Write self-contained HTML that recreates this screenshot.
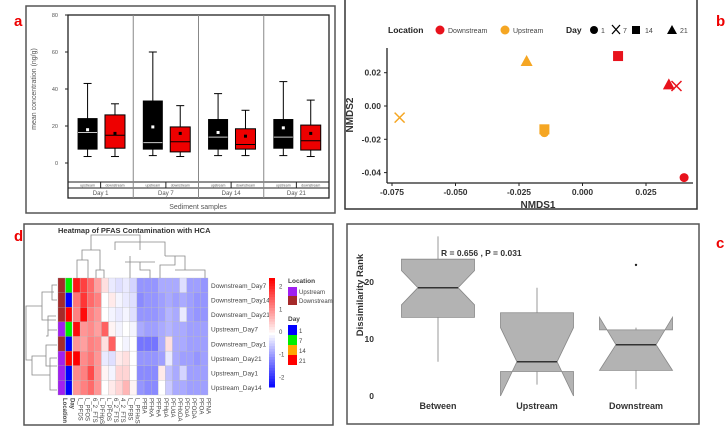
<!DOCTYPE html>
<html><head><meta charset="utf-8"><style>
html,body{margin:0;padding:0;background:#fff;}
svg{display:block;font-family:"Liberation Sans",Arial,sans-serif;}
</style></head><body>
<svg id="fig" width="725" height="435" viewBox="0 0 725 435" xmlns="http://www.w3.org/2000/svg">
<rect x="26" y="6" width="309" height="207" fill="none" stroke="#555" stroke-width="1.5"/>
<rect x="345" y="-2" width="352" height="211" fill="none" stroke="#333" stroke-width="1.5"/>
<rect x="24" y="224" width="309" height="201" fill="none" stroke="#555" stroke-width="1.5"/>
<rect x="347" y="224" width="352" height="200" fill="none" stroke="#555" stroke-width="1.5"/>
<text x="14" y="26" fill="#e00" font-weight="bold" font-size="15">a</text>
<text x="716" y="26" fill="#e00" font-weight="bold" font-size="15">b</text>
<text x="14" y="241" fill="#e00" font-weight="bold" font-size="15">d</text>
<text x="716" y="248" fill="#e00" font-weight="bold" font-size="15">c</text>
<g id="ga"></g><g id="gb"></g><g id="gd"></g><g id="gc"></g>
</svg>
<script>
const NS="http://www.w3.org/2000/svg";
function mk(p,t,a,txt){const e=document.createElementNS(NS,t);for(const k in a)e.setAttribute(k,a[k]);if(txt!==undefined)e.textContent=txt;p.appendChild(e);return e;}

/* ---------- Panel a data ---------- */
const aDays=["Day 1","Day 7","Day 14","Day 21"];
const aGroups=["upstream","downstream"];
const aMin=[3.5,3.5, 4,3.5, 4,4, 4,3.5];
const aQ1=[7.5,8, 7.5,6, 7.5,7.5, 8,7];
const aMed=[16.5,15, 11,11.5, 14,10, 14,12];
const aQ3=[24,26, 33.5,19.5, 23.5,18.5, 23.5,20.5];
const aMax=[43,32, 60,31, 37.5,28.5, 44,34];
const aMean=[18,16, 19.5,16, 16.5,14.5, 19,16];
const aTicks=[0,20,40,60,80];
(function(){
 const g=document.getElementById('ga');
 const L=68,R=329,T=15,B=198;
 const y=v=>163-(v)*(148/80);
 mk(g,'rect',{x:L,y:T,width:R-L,height:B-T,fill:'none',stroke:'#222','stroke-width':1.3});
 aTicks.forEach(t=>{mk(g,'line',{x1:L-3,x2:L,y1:y(t),y2:y(t),stroke:'#222'});
  const e=mk(g,'text',{x:L-10,y:y(t)+2,'font-size':5.5,'text-anchor':'end',fill:'#555'},t);
  });
 const yt=mk(g,'text',{x:36,y:89,'font-size':7,fill:'#555','text-anchor':'middle',transform:'rotate(-90 36 89)'},'mean concentration (ng/g)');
 
 const gw=(R-L)/aDays.length;
 mk(g,'line',{x1:L,x2:R,y1:182,y2:182,stroke:'#222'});
 mk(g,'line',{x1:L,x2:R,y1:188,y2:188,stroke:'#222'});
 aDays.forEach((d,i)=>{
  const x0=L+i*gw;
  if(i>0)mk(g,'line',{x1:x0,x2:x0,y1:T,y2:B,stroke:'#888'});
  mk(g,'line',{x1:x0+gw/2,x2:x0+gw/2,y1:182,y2:188,stroke:'#222'});
  const dt=mk(g,'text',{x:x0+gw/2,y:195,'font-size':6,'text-anchor':'middle',fill:'#555'},d);
  
  aGroups.forEach((gr,j)=>{
   const k=i*2+j;const cx=x0+gw*(j?0.72:0.3);const w=j?20:19;
   const col=j?'#e00':'#000';
   mk(g,'line',{x1:cx,x2:cx,y1:y(aMax[k]),y2:y(aMin[k]),stroke:'#000','stroke-width':1});
   mk(g,'line',{x1:cx-4,x2:cx+4,y1:y(aMax[k]),y2:y(aMax[k]),stroke:'#000'});
   mk(g,'line',{x1:cx-4,x2:cx+4,y1:y(aMin[k]),y2:y(aMin[k]),stroke:'#000'});
   const b=mk(g,'rect',{x:cx-w/2,y:y(aQ3[k]),width:w,height:y(aQ1[k])-y(aQ3[k]),fill:col,stroke:'#000'});
   
   mk(g,'line',{x1:cx-w/2,x2:cx+w/2,y1:y(aMed[k]),y2:y(aMed[k]),stroke:j?'#000':'#ccc','stroke-width':1});
   mk(g,'rect',{x:cx-1.5,y:y(aMean[k])-1.5,width:3,height:3,fill:j?'#000':'#fff'});
   const lt=mk(g,'text',{x:cx,y:186.5,'font-size':3.5,'text-anchor':'middle',fill:'#555'},gr);
   
  });
 });
 const xt=mk(g,'text',{x:198,y:209,'font-size':7,'text-anchor':'middle',fill:'#555'},'Sediment samples');
 
})();

/* ---------- Panel b data ---------- */
const bX=[-0.072,-0.022,-0.015,-0.015,0.014,0.034,0.037,0.040];
const bY=[-0.007,0.027,-0.014,-0.016,0.030,0.013,0.012,-0.043];
const bLoc=["Upstream","Upstream","Upstream","Upstream","Downstream","Downstream","Downstream","Downstream"];
const bDay=[7,21,14,1,14,21,7,1];
const bXTicks=[-0.075,-0.05,-0.025,0,0.025];
const bXTickLabels=["-0.075","-0.050","-0.025","0.000","0.025"];
const bYTicks=[0.02,0,-0.02,-0.04];
const bYTickLabels=["0.02","0.00","-0.02","-0.04"];
(function(){
 const g=document.getElementById('gb');
 const x=v=>392+(v+0.075)*(254/0.1);
 const y=v=>106-v*(33.3/0.02);
 mk(g,'line',{x1:387,x2:387,y1:48,y2:183,stroke:'#222','stroke-width':1.3});
 mk(g,'line',{x1:387,x2:693,y1:183,y2:183,stroke:'#222','stroke-width':1.3});
 bXTicks.forEach((t,i)=>{mk(g,'line',{x1:x(t),x2:x(t),y1:183,y2:186,stroke:'#222'});
  const e=mk(g,'text',{x:x(t),y:195,'font-size':8.5,'font-weight':'bold','text-anchor':'middle',fill:'#333'},bXTickLabels[i]);
  });
 bYTicks.forEach((t,i)=>{mk(g,'line',{x1:384,x2:387,y1:y(t),y2:y(t),stroke:'#222'});
  const e=mk(g,'text',{x:381,y:y(t)+3,'font-size':8.5,'font-weight':'bold','text-anchor':'end',fill:'#333'},bYTickLabels[i]);
  });
 const t1=mk(g,'text',{x:538,y:208,'font-size':10,'font-weight':'bold','text-anchor':'middle',fill:'#333'},'NMDS1');
 
 const t2=mk(g,'text',{x:353,y:115,'font-size':10,'font-weight':'bold','text-anchor':'middle',fill:'#333',transform:'rotate(-90 353 115)'},'NMDS2');
 
 function shape(cx,cy,d,col,s){
  if(d===1)return mk(g,'circle',{cx,cy,r:s*0.9,fill:col});
  if(d===14)return mk(g,'rect',{x:cx-s,y:cy-s,width:2*s,height:2*s,fill:col});
  if(d===21)return mk(g,'polygon',{points:`${cx},${cy-s*1.2} ${cx-s*1.2},${cy+s} ${cx+s*1.2},${cy+s}`,fill:col});
  return mk(g,'path',{d:`M${cx-s},${cy-s}L${cx+s},${cy+s}M${cx-s},${cy+s}L${cx+s},${cy-s}`,stroke:col,'stroke-width':1.5,fill:'none'});
 }
 bX.forEach((v,i)=>{const col=bLoc[i]==='Upstream'?'#f5a623':'#e8121c';
  const e=shape(x(v),y(bY[i]),bDay[i],col,5);
  });
 const lg=mk(g,'g',{});
 
 mk(lg,'text',{x:388,y:33,'font-size':8.5,'font-weight':'bold',fill:'#222'},'Location');
 mk(lg,'circle',{cx:440,cy:30,r:4.5,fill:'#e8121c'});
 mk(lg,'text',{x:448,y:33,'font-size':7,fill:'#444'},'Downstream');
 mk(lg,'circle',{cx:505,cy:30,r:4.5,fill:'#f5a623'});
 mk(lg,'text',{x:513,y:33,'font-size':7,fill:'#444'},'Upstream');
 mk(lg,'text',{x:566,y:33,'font-size':8.5,'font-weight':'bold',fill:'#222'},'Day');
 mk(lg,'circle',{cx:594,cy:30,r:4,fill:'#000'});
 mk(lg,'text',{x:601,y:33,'font-size':7,fill:'#444'},'1');
 mk(lg,'path',{d:'M612,25L620,34M612,34L620,25',stroke:'#000','stroke-width':1.3});
 mk(lg,'text',{x:623,y:33,'font-size':7,fill:'#444'},'7');
 mk(lg,'rect',{x:632,y:26,width:8,height:8,fill:'#000'});
 mk(lg,'text',{x:645,y:33,'font-size':7,fill:'#444'},'14');
 mk(lg,'polygon',{points:'672,25 667,34 677,34',fill:'#000'});
 mk(lg,'text',{x:680,y:33,'font-size':7,fill:'#444'},'21');
})();

/* ---------- Panel d data ---------- */
const dRows=["Downstream_Day7","Downstream_Day14","Downstream_Day21","Upstream_Day7","Downstream_Day1","Upstream_Day21","Upstream_Day1","Upstream_Day14"];
const dRowLoc=["Downstream","Downstream","Downstream","Upstream","Downstream","Upstream","Upstream","Upstream"];
const dRowDay=[7,1,21,7,1,21,1,1];
const dCols=["L_PFDS","L_PFOS","6_2_FTS","L_PFHpS","L_PFOS","6_2_FTS","4_2_FTS","L_PFBS","L_PFHxS","PFBA","PFHxA","PFPeA","PFHpA","PFUdA","PFHxDA","PFDoA","PFODA","PFOA","PFNA"];
const dVals=[
 [2.2,1.8,1.4,0.9,0.3,-0.2,-0.3,-0.2,-0.4,-1,-1,-1,-0.8,-0.8,-0.8,-0.3,-0.9,-0.9,-1],
 [1.3,1.9,1.4,1.2,0,0.2,-0.1,-0.2,-0.3,-1.1,-1,-1,-0.9,-0.8,-0.9,-0.8,-0.9,-1,-1],
 [1.2,2.3,1.2,1,0,-0.1,-0.2,-0.1,-0.3,-1,-1,-1,-0.9,-0.7,-0.8,-0.2,-0.9,-1,-1],
 [2.3,1,1.1,0.9,1.5,0.1,-0.1,0,-0.1,-0.8,-0.9,-0.9,-0.8,-0.7,-0.8,-0.8,-0.9,-0.9,-0.9],
 [1,0.9,1.2,1.1,0.3,1.5,0,-0.1,0,-1.3,-1.3,-1.3,-0.8,0.3,-0.8,-0.8,-0.9,-0.9,-0.9],
 [2.4,1.1,1.3,1,-0.2,-0.3,0.2,0.3,0,-1,-1,-1,-0.9,-0.2,-0.8,-0.9,-0.9,-1,-0.9],
 [1.1,1.2,1.7,1,0.1,-0.1,0.4,0.4,0,-1.1,-1.1,-1.1,0.2,-0.6,-0.8,-0.4,-0.9,-0.9,-0.9],
 [1,1.2,1.4,1,0,0.2,0.4,0.7,0.1,-1,-1.1,-1.1,0,-0.5,-0.8,-0.8,-0.9,-0.9,-0.9]
];
const dLegendTicks=[2,1,0,-1,-2];
(function(){
 const g=document.getElementById('gd');
 const X0=73,X1=208,Y0=278,Y1=395;
 const cw=(X1-X0)/dCols.length,rh=(Y1-Y0)/dRows.length;
 function col(v){v=Math.max(-2.4,Math.min(2.4,v))/2.4;
  if(v>=0){const c=Math.round(255*(1-v));return `rgb(255,${c},${c})`;}
  const c=Math.round(255*(1+v));return `rgb(${c},${c},255)`;}
 const tt=mk(g,'text',{x:58,y:233,'font-size':7.5,'font-weight':'bold',fill:'#333'},'Heatmap of PFAS Contamination with HCA');
 
 dRows.forEach((r,i)=>{
  const yy=Y0+i*rh;
  const lc=mk(g,'rect',{x:58,y:yy,width:7,height:rh,fill:dRowLoc[i]==='Upstream'?'#a020f0':'#a52a2a',stroke:'#999','stroke-width':0.3});
  
  const dc={1:'#0000ff',7:'#00ee00',14:'#ffa500',21:'#ff0000'}[dRowDay[i]];
  const dcell=mk(g,'rect',{x:65.5,y:yy,width:6.5,height:rh,fill:dc,stroke:'#999','stroke-width':0.3});
  
  dCols.forEach((c,j)=>{
   const e=mk(g,'rect',{x:X0+j*cw,y:yy,width:cw,height:rh,fill:col(dVals[i][j]),stroke:'#bbb','stroke-width':0.3});
   
  });
  const rl=mk(g,'text',{x:211,y:yy+rh/2+2.5,'font-size':6.5,fill:'#444'},r);
  
 });
 const cl=['Location','Day'].concat(dCols);
 cl.forEach((c,j)=>{const xx=j<2?(j?70.5:63):X0+(j-2)*cw+cw/2+2;
  const e=mk(g,'text',{x:xx,y:398,'font-size':6,fill:'#444','font-weight':j<2?'bold':'normal',transform:`rotate(90 ${xx} 398)`},c);
  });
 mk(g,'path',{d:'M57,285H52V300H57M54,292H42V320H56M56,316H48V336H46M57,330H48M57,345H46V366H57M57,358H50V390H57M50,375H32V356H46M42,306H26V360H32',stroke:'#888',fill:'none','stroke-width':0.8});
 mk(g,'path',{d:'M77,278V260H88V278M82,260V250H100V270H96V278M100,270H104V278M91,250V235H140V250M115,250V242H165V256M140,242V248M130,256V278M125,262H155M140,262V270H150V278M165,256H185V270H205V278M175,256V265H160V278M185,270H175',stroke:'#888',fill:'none','stroke-width':0.8});
 const cb=mk(g,'g',{});
 for(let k=0;k<40;k++){const v=2.4-k*4.8/40;mk(cb,'rect',{x:269,y:278+k*109/40,width:6,height:109/40+0.5,fill:col(v)});}
 dLegendTicks.forEach(t=>mk(cb,'text',{x:279,y:332-t*(109/4.8)+2,'font-size':6,fill:'#444'},t));
 mk(g,'text',{x:288,y:283,'font-size':6.5,'font-weight':'bold',fill:'#444'},'Location');
 mk(g,'rect',{x:288,y:287,width:9,height:9,fill:'#a020f0'});
 mk(g,'text',{x:299,y:294,'font-size':6,fill:'#444'},'Upstream');
 mk(g,'rect',{x:288,y:296,width:9,height:9,fill:'#a52a2a'});
 mk(g,'text',{x:299,y:303,'font-size':6,fill:'#444'},'Downstream');
 mk(g,'text',{x:288,y:321,'font-size':6.5,'font-weight':'bold',fill:'#444'},'Day');
 [['#0000ff','1'],['#00ee00','7'],['#ffa500','14'],['#ff0000','21']].forEach((p,i)=>{
  mk(g,'rect',{x:288,y:325+i*10,width:9,height:10,fill:p[0]});
  mk(g,'text',{x:299,y:333+i*10,'font-size':6,fill:'#444'},p[1]);});
})();

/* ---------- Panel c data ---------- */
const cCats=["Between","Upstream","Downstream"];
const cMin=[6,2,1.2];
const cQ1=[13.8,4.3,4.5];
const cMed=[19,6,9];
const cQ3=[24,14.6,11.6];
const cMax=[28,19,12];
const cNotchLo=[16,0,4.5];
const cNotchHi=[22,12,13.8];
const cOut=[null,null,23];
const cTicks=[0,10,20];
(function(){
 const g=document.getElementById('gc');
 const y=v=>396-v*5.7;
 const cx=[438,537,636],hw=36.5;
 cTicks.forEach(t=>{const e=mk(g,'text',{x:374,y:y(t)+3,'font-size':8.5,'font-weight':'bold','text-anchor':'end',fill:'#333'},t);
  });
 const yt=mk(g,'text',{x:363,y:295,'font-size':9.5,'font-weight':'bold','text-anchor':'middle',fill:'#333',transform:'rotate(-90 363 295)'},'Dissimilarity Rank');
 
 cCats.forEach((c,i)=>{
  const x=cx[i];
  mk(g,'line',{x1:x,x2:x,y1:y(cMax[i]),y2:y(cMin[i]),stroke:'#999','stroke-width':1});
  const nw=hw*0.55;
  const pts=[[x-hw,y(cQ3[i])],[x-hw,y(cNotchHi[i])],[x-nw,y(cMed[i])],[x-hw,y(cNotchLo[i])],[x-hw,y(cQ1[i])],
   [x+hw,y(cQ1[i])],[x+hw,y(cNotchLo[i])],[x+nw,y(cMed[i])],[x+hw,y(cNotchHi[i])],[x+hw,y(cQ3[i])]];
  const b=mk(g,'polygon',{points:pts.map(p=>p.join(',')).join(' '),fill:'#b3b3b3',stroke:'#888','stroke-width':0.8});
  
  mk(g,'line',{x1:x-nw,x2:x+nw,y1:y(cMed[i]),y2:y(cMed[i]),stroke:'#333','stroke-width':1.5});
  if(cOut[i]!==null){const o=mk(g,'circle',{cx:x,cy:y(cOut[i]),r:1.2,fill:'#222'});
   }
  const l=mk(g,'text',{x:x,y:409,'font-size':9,'font-weight':'bold','text-anchor':'middle',fill:'#333'},c);
  
 });
 const st=mk(g,'text',{x:441,y:256,'font-size':8.5,'font-weight':'bold',fill:'#333'},'R = 0.656 , P = 0.031');
 
})();
</script>
</body></html>
